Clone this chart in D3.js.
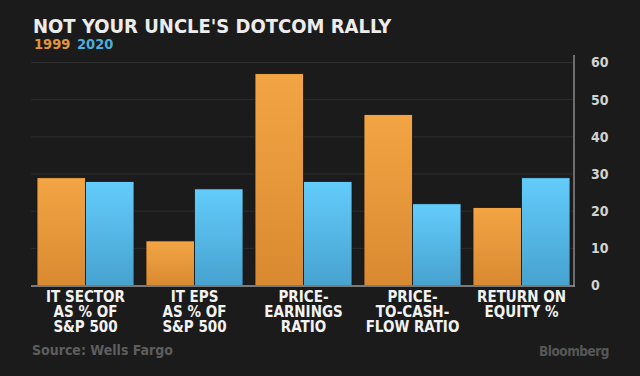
<!DOCTYPE html>
<head>
    <title>Not your uncle's dotcom rally</title>
    <script src="https://cdn.jsdelivr.net/npm/d3@7"></script>
    <style>
        body { margin: 0; background: #1b1b1b; }
        svg { display: block; }
    </style>
</head>
<body>
<svg></svg>
</body>

<script>
    // data
    var categories = [
        ["IT SECTOR", "AS % OF", "S&P 500"],
        ["IT EPS", "AS % OF", "S&P 500"],
        ["PRICE-", "EARNINGS", "RATIO"],
        ["PRICE-", "TO-CASH-", "FLOW RATIO"],
        ["RETURN ON", "EQUITY %"]
    ];
    var years = ["1999", "2020"];
    var values1999 = [29, 12, 57, 46, 21];
    var values2020 = [28, 26, 28, 22, 29];
    var yTicks = [0, 10, 20, 30, 40, 50, 60];

    var width = 640;
    var height = 376;
    var font = "'DejaVu Sans Condensed', 'DejaVu Sans', sans-serif";

    var svg = d3.select('svg')
        .attr('width', width)
        .attr('height', height)
        .style('font-family', font);

    svg.append('rect').attr('width', width).attr('height', height).attr('fill', '#1b1b1b');

    // gradients
    var defs = svg.append('defs');
    function grad(id, top, bottom) {
        var g = defs.append('linearGradient').attr('id', id)
            .attr('x1', 0).attr('y1', 0).attr('x2', 0).attr('y2', 1);
        g.append('stop').attr('offset', '0%').attr('stop-color', top);
        g.append('stop').attr('offset', '100%').attr('stop-color', bottom);
    }
    grad('g1999', '#f3a544', '#d98a31');
    grad('g2020', '#63ccfb', '#47a2cf');

    // scales
    var x = d3.scaleBand()
        .domain(d3.range(categories.length))
        .range([31, 576])
        .paddingInner(0.11)
        .paddingOuter(0.055);
    var x1 = d3.scaleBand().domain(years).range([0, x.bandwidth()]);
    var y = d3.scaleLinear().domain([0, 60]).range([285.5, 62.5]);

    // gridlines
    svg.append('g')
        .selectAll('line')
        .data(yTicks.slice(1))
        .enter().append('line')
        .attr('x1', 31).attr('x2', 574)
        .attr('y1', function (d) { return y(d); })
        .attr('y2', function (d) { return y(d); })
        .attr('stroke', '#2e2e2e')
        .attr('stroke-width', 1);

    // bars
    var series = [
        { year: "1999", vals: values1999 },
        { year: "2020", vals: values2020 }
    ];
    series.forEach(function (s) {
        svg.append('g').selectAll('rect')
            .data(s.vals)
            .enter().append('rect')
            .attr('x', function (d, i) { return x(i) + x1(s.year); })
            .attr('y', function (d) { return y(d); })
            .attr('width', x1.bandwidth())
            .attr('height', function (d) { return y(0) - y(d); })
            .attr('fill', 'url(#g' + s.year + ')')
            .attr('stroke', '#151515')
            .attr('stroke-width', 0.8);
    });

    // right axis
    var yAxis = d3.axisRight(y).tickValues(yTicks).tickSize(0).tickPadding(17);
    var ax = svg.append('g').attr('transform', 'translate(574,0)').call(yAxis);
    ax.select('.domain').remove();
    ax.selectAll('text')
        .attr('fill', '#d2d2d2')
        .style('font-family', font)
        .style('font-size', '14px')
        .style('font-weight', 'bold');
    svg.append('line')
        .attr('x1', 574).attr('x2', 574)
        .attr('y1', y(62)).attr('y2', y(0) + 1)
        .attr('stroke', '#8a8a8a').attr('stroke-width', 1.5);
    svg.append('line')
        .attr('x1', 31).attr('x2', 575)
        .attr('y1', y(0) + 0.5).attr('y2', y(0) + 0.5)
        .attr('stroke', '#9a9a9a').attr('stroke-width', 1.5);

    // category labels
    var labels = svg.append('g').selectAll('text')
        .data(categories)
        .enter().append('text')
        .attr('text-anchor', 'middle')
        .attr('fill', '#f2f2f2')
        .style('font-size', '15px')
        .style('font-weight', 'bold');
    labels.selectAll('tspan')
        .data(function (d, i) { return d.map(function (t) { return { t: t, i: i }; }); })
        .enter().append('tspan')
        .attr('x', function (d) { return x(d.i) + x.bandwidth() / 2; })
        .attr('y', function (d, j) { return 302 + j * 14.8; })
        .text(function (d) { return d.t; });

    // title and legend
    svg.append('text')
        .attr('x', 33).attr('y', 33)
        .attr('fill', '#ececec')
        .style('font-size', '20px')
        .style('font-weight', 'bold')
        .text("NOT YOUR UNCLE'S DOTCOM RALLY");
    svg.append('text')
        .attr('x', 34).attr('y', 49)
        .attr('fill', '#e0963a')
        .style('font-size', '14.5px')
        .style('font-weight', 'bold')
        .text(years[0]);
    svg.append('text')
        .attr('x', 77).attr('y', 49)
        .attr('fill', '#4aaedc')
        .style('font-size', '14.5px')
        .style('font-weight', 'bold')
        .text(years[1]);

    // footer
    svg.append('text')
        .attr('x', 32).attr('y', 355)
        .attr('fill', '#5e5e5e')
        .style('font-size', '14px')
        .style('font-weight', 'bold')
        .text("Source: Wells Fargo");
    svg.append('text')
        .attr('x', 609).attr('y', 355.5)
        .attr('text-anchor', 'end')
        .attr('fill', '#575757')
        .style('font-size', '13.5px')
        .style('font-weight', 'bold')
        .style('letter-spacing', '-0.5px')
        .text("Bloomberg");
</script>
